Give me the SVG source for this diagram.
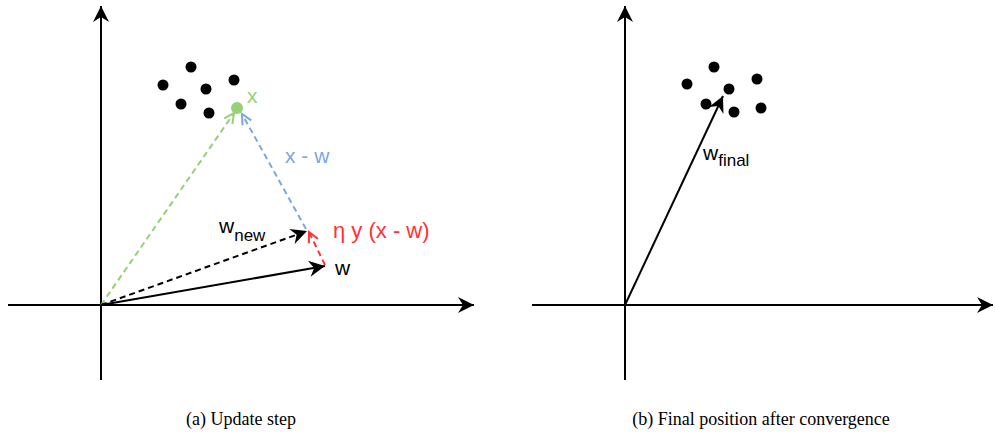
<svg xmlns="http://www.w3.org/2000/svg" width="995" height="439" viewBox="0 0 995 439">
<style>
.ax{stroke:#000;stroke-width:2;fill:none}
.vec{stroke:#000;stroke-width:2;fill:none}
.dash{stroke-dasharray:6 4}
.lbl{font-family:"Liberation Sans",Arial,sans-serif;font-size:21px}
.cap{font-family:"Liberation Serif","Times New Roman",serif;font-size:18px;fill:#000;text-anchor:middle}
.dot{fill:#000}
</style>
<defs>
<marker id="classic" markerUnits="userSpaceOnUse" markerWidth="20" markerHeight="20" viewBox="-17 -10 19 20" refX="0" refY="0" orient="auto">
<path d="M0,0 L-16,-8 L-11,0 L-16,8 Z" fill="#000" stroke="none"/>
</marker>
<marker id="openG" markerUnits="userSpaceOnUse" markerWidth="16" markerHeight="16" viewBox="-12 -8 14 16" refX="0" refY="0" orient="auto">
<path d="M-10,-5 L0,0 L-10,5" fill="none" stroke="#97D077" stroke-width="2"/>
</marker>
<marker id="openB" markerUnits="userSpaceOnUse" markerWidth="16" markerHeight="16" viewBox="-12 -8 14 16" refX="0" refY="0" orient="auto">
<path d="M-10,-5 L0,0 L-10,5" fill="none" stroke="#7EA6E0" stroke-width="2"/>
</marker>
<marker id="openR" markerUnits="userSpaceOnUse" markerWidth="16" markerHeight="16" viewBox="-12 -8 14 16" refX="0" refY="0" orient="auto">
<path d="M-10,-5 L0,0 L-10,5" fill="none" stroke="#FF3333" stroke-width="2"/>
</marker>
</defs>

<g id="connectors">
<line class="ax" x1="101" y1="380" x2="101" y2="6" marker-end="url(#classic)"/>
<line class="ax" x1="8" y1="305" x2="474" y2="305" marker-end="url(#classic)"/>
<line class="ax" x1="625" y1="380" x2="625" y2="6" marker-end="url(#classic)"/>
<line class="ax" x1="532" y1="305" x2="993" y2="305" marker-end="url(#classic)"/>
<line class="vec dash" x1="101" y1="305" x2="234" y2="113" style="stroke:#97D077" marker-end="url(#openG)"/>
<line class="vec dash" x1="306" y1="229" x2="242" y2="114" style="stroke:#7EA6E0" marker-end="url(#openB)"/>
<line class="vec dash" x1="101" y1="305" x2="307" y2="231" marker-end="url(#classic)"/>
<line class="vec" x1="101" y1="305" x2="325" y2="266" marker-end="url(#classic)"/>
<line class="vec dash" x1="325" y1="265" x2="309" y2="232" style="stroke:#FF3333" marker-end="url(#openR)"/>
<line class="vec" x1="625" y1="305" x2="723" y2="96" marker-end="url(#classic)"/>
</g>

<g id="cluster-left">
<circle class="dot" cx="163" cy="85" r="5.5"/>
<circle class="dot" cx="191" cy="67" r="5.5"/>
<circle class="dot" cx="181" cy="104" r="5.5"/>
<circle class="dot" cx="206" cy="89" r="5.5"/>
<circle class="dot" cx="234" cy="80" r="5.5"/>
<circle class="dot" cx="209" cy="113" r="5.5"/>
</g>

<g id="point-x">
<circle cx="237" cy="108" r="6" fill="#97D077"/>
<text class="lbl" x="247" y="103" fill="#97D077" font-size="22">x</text>
</g>

<g id="label-xw">
<text class="lbl" x="285" y="163" fill="#7EA6E0">x - w</text>
</g>

<g id="label-eta">
<text class="lbl" x="333" y="238" fill="#FF3333" style="font-size:22px">η y (x - w)</text>
</g>

<g id="label-wnew">
<text class="lbl" x="219" y="233" fill="#000">w<tspan font-size="17" dy="8">new</tspan></text>
</g>

<g id="label-w">
<text class="lbl" x="335" y="275" fill="#000">w</text>
</g>

<g id="cluster-right">
<circle class="dot" cx="714" cy="67" r="5.5"/>
<circle class="dot" cx="687" cy="84" r="5.5"/>
<circle class="dot" cx="729" cy="89" r="5.5"/>
<circle class="dot" cx="757" cy="79" r="5.5"/>
<circle class="dot" cx="706" cy="104" r="5.5"/>
<circle class="dot" cx="734" cy="112" r="5.5"/>
<circle class="dot" cx="761" cy="108" r="5.5"/>
</g>

<g id="label-wfinal">
<text class="lbl" x="703" y="160" fill="#000">w<tspan font-size="17" dy="6">final</tspan></text>
</g>

<g id="captions">
<text class="cap" x="241" y="425">(a) Update step</text>
<text class="cap" x="761" y="425">(b) Final position after convergence</text>
</g>
</svg>
